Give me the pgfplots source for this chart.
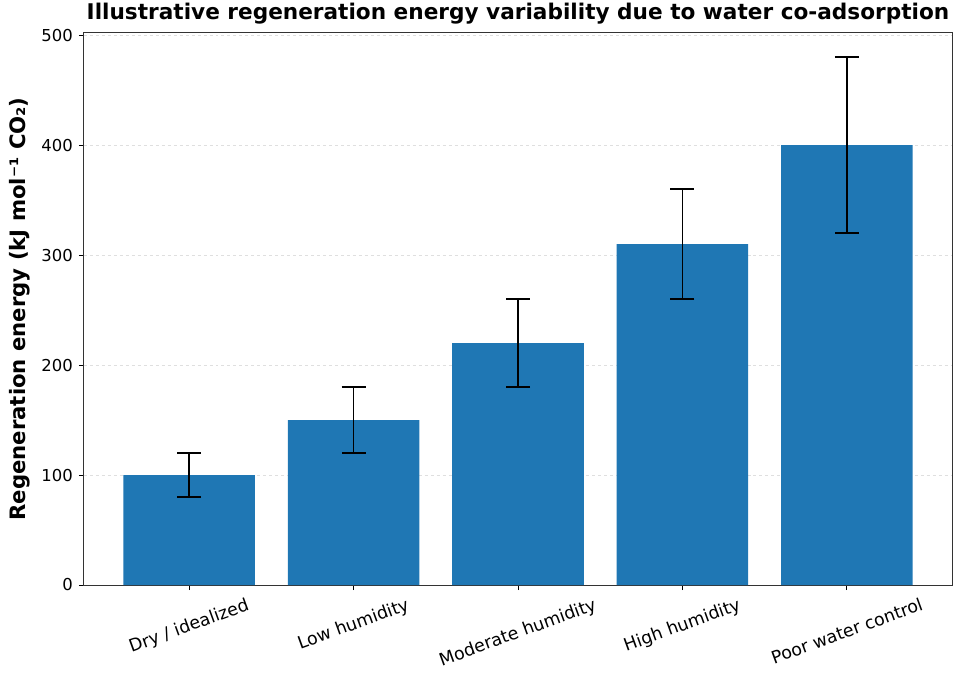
\documentclass[border=0pt]{standalone}
\usepackage{fontspec}
\setmainfont{DejaVu Sans}
\usepackage{graphicx}
\usepackage{pgfplots}
\pgfplotsset{compat=1.18}
\definecolor{barblue}{HTML}{1F77B4}
\pgfplotstableread{
x y e
0 100 20
1 150 30
2 220 40
3 310 50
4 400 80
}\datatable
\begin{document}
\begin{tikzpicture}
\begin{axis}[
  at={(0,0)}, anchor=south west,
  scale only axis, width=868bp, height=552bp,
  xmin=-0.64, xmax=4.64, ymin=0, ymax=502,
  xtick={0,1,2,3,4},
  xticklabels={\rotatebox{20}{Dry / idealized},\rotatebox{20}{Low humidity},\rotatebox{20}{Moderate humidity},\rotatebox{20}{High humidity},\rotatebox{20}{Poor water control}},
  ytick={0,100,200,300,400,500},
  tick align=outside, tick pos=left,
  major tick length=5bp,
  tick style={black, line width=0.8bp},
  axis line style={black!80, line width=1bp},
  ymajorgrids, major grid style={dashed, gray!25, line width=0.6bp},
  /pgf/number format/assume math mode=true,
  yticklabel style={font=\fontsize{16.5}{19}\selectfont, anchor=east, inner sep=0pt, xshift=-6bp},
  xticklabel style={font=\fontsize{17.5}{19}\selectfont, anchor=north, inner sep=0pt, yshift=-7bp},
  ylabel={Regeneration energy (kJ mol⁻¹ CO₂)},
  ylabel style={at={(axis description cs:0,0.5)}, anchor=center, yshift=64bp, font=\fontsize{21.3}{24}\selectfont\bfseries},
  title={Illustrative regeneration energy variability due to water co-adsorption},
  title style={at={(axis description cs:0.5,1)}, anchor=base, yshift=8bp, font=\fontsize{21.7}{24}\selectfont\bfseries},
]
\addplot[ybar, bar width=0.8, fill=barblue, draw=none,
  error bars/.cd, y dir=both, y explicit,
  error bar style={black, line width=1.5bp},
  error mark options={rotate=90, mark size=12bp, black, line width=1.5bp}]
  table[x=x, y=y, y error=e] {\datatable};
\end{axis}
\pgfresetboundingbox
\path (-84bp,-93bp) rectangle (871bp,585bp);
\end{tikzpicture}
\end{document}
